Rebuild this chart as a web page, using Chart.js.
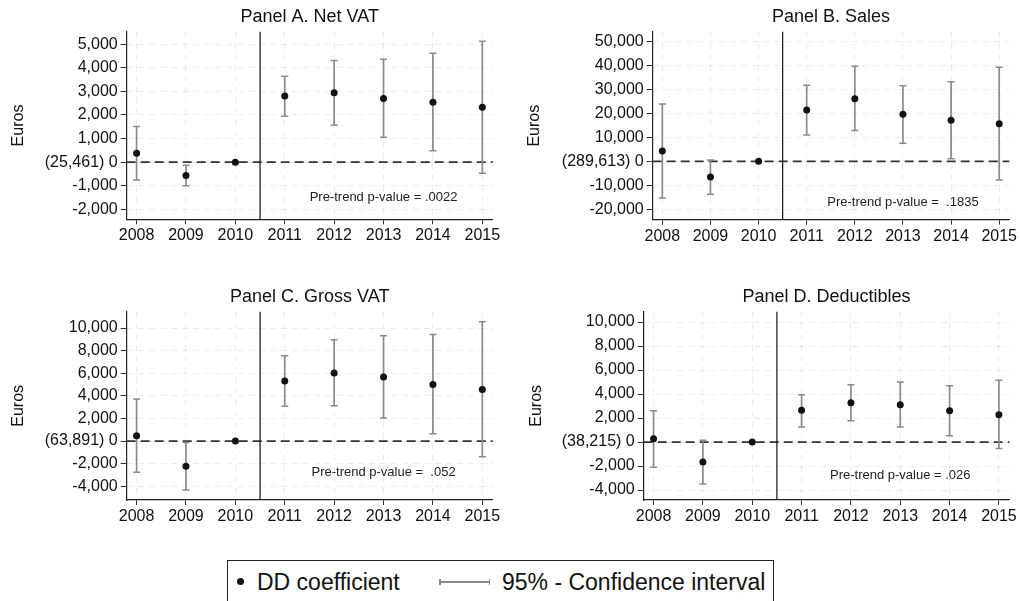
<!DOCTYPE html>
<html>
<head>
<meta charset="utf-8">
<script src="https://cdn.jsdelivr.net/npm/chart.js@4.4.1/dist/chart.umd.min.js"></script>
<style>
  body { margin: 0; background: #fff; }
  #wrap { position: relative; width: 1020px; height: 601px; overflow: hidden; font-family: 'Liberation Sans', Arial, sans-serif; }
  canvas { position: absolute; }
  #legend { position: absolute; left: 227px; top: 560px; width: 547px; height: 60px; border: 1.3px solid #222; box-sizing: border-box; color: #111; font-size: 23px; }
  #legend span { position: absolute; top: 0; line-height: 42px; white-space: pre; }
  .dot { position: absolute; left: 9px; top: 17px; width: 7px; height: 7px; border-radius: 50%; background: #111; }
  .bar { position: absolute; left: 211px; top: 20px; width: 51px; height: 1.5px; background: #8a8a8a; }
  .cap { position: absolute; top: 17.5px; width: 1.5px; height: 6px; background: #8a8a8a; }
</style>
</head>
<body>
<div id="wrap">
  <canvas id="panelA" width="510" height="280" style="left:0;top:0"></canvas>
  <canvas id="panelB" width="510" height="280" style="left:510px;top:0"></canvas>
  <canvas id="panelC" width="510" height="280" style="left:0;top:280px"></canvas>
  <canvas id="panelD" width="510" height="280" style="left:510px;top:280px"></canvas>
  <div id="legend">
    <div class="dot"></div>
    <span style="left:29px">DD coefficient</span>
    <div class="bar"></div>
    <div class="cap" style="left:211px"></div>
    <div class="cap" style="left:260.5px"></div>
    <span style="left:274px">95% - Confidence interval</span>
  </div>
</div>
<script>
// --- data ---
const years = [2008, 2009, 2010, 2011, 2012, 2013, 2014, 2015];

const netVatCoef = [380, -565, 0, 2800, 2940, 2700, 2540, 2330];
const netVatLo   = [-750, -1000, null, 1950, 1570, 1060, 480, -470];
const netVatHi   = [1510, -130, null, 3640, 4310, 4360, 4620, 5130];
const netVatTicks  = [-2000, -1000, 0, 1000, 2000, 3000, 4000, 5000];
const netVatLabels = ['-2,000', '-1,000', '(25,461) 0', '1,000', '2,000', '3,000', '4,000', '5,000'];

const salesCoef = [4300, -6500, 0, 21400, 26100, 19600, 17100, 15700];
const salesLo   = [-15300, -13700, null, 11000, 12800, 7500, 1100, -7800];
const salesHi   = [23900, 600, null, 31700, 39600, 31500, 33200, 39200];
const salesTicks  = [-20000, -10000, 0, 10000, 20000, 30000, 40000, 50000];
const salesLabels = ['-20,000', '-10,000', '(289,613) 0', '10,000', '20,000', '30,000', '40,000', '50,000'];

const grossVatCoef = [470, -2240, 0, 5310, 6020, 5660, 5010, 4570];
const grossVatLo   = [-2770, -4340, null, 3070, 3130, 2030, 650, -1390];
const grossVatHi   = [3720, -120, null, 7550, 8970, 9320, 9440, 10560];
const grossVatTicks  = [-4000, -2000, 0, 2000, 4000, 6000, 8000, 10000];
const grossVatLabels = ['-4,000', '-2,000', '(63,891) 0', '2,000', '4,000', '6,000', '8,000', '10,000'];

const deductCoef = [280, -1670, 0, 2640, 3280, 3110, 2610, 2280];
const deductLo   = [-2110, -3500, null, 1250, 1780, 1250, 530, -530];
const deductHi   = [2610, 140, null, 3940, 4780, 5000, 4690, 5140];
const deductTicks  = [-4000, -2000, 0, 2000, 4000, 6000, 8000, 10000];
const deductLabels = ['-4,000', '-2,000', '(38,215) 0', '2,000', '4,000', '6,000', '8,000', '10,000'];

const treatmentLine = 2010.5;

const FONT = "'Liberation Sans', Arial, sans-serif";
const INK = '#111';

// reference lines + pre-trend note, placed through the scales
const refLines = {
  id: 'refLines',
  beforeDatasetsDraw(chart) {
    const { ctx, chartArea: a, scales: { x, y } } = chart;
    ctx.save();
    ctx.strokeStyle = '#333';
    ctx.lineWidth = 1.7;
    ctx.setLineDash([9, 5]);
    const y0 = y.getPixelForValue(0);
    ctx.beginPath(); ctx.moveTo(a.left, y0); ctx.lineTo(a.right, y0); ctx.stroke();
    ctx.setLineDash([]);
    ctx.strokeStyle = '#111';
    ctx.lineWidth = 1.2;
    const xv = x.getPixelForValue(treatmentLine);
    ctx.beginPath(); ctx.moveTo(xv, a.top); ctx.lineTo(xv, a.bottom); ctx.stroke();
    ctx.restore();
  },
  afterDatasetsDraw(chart, args, opts) {
    const { ctx, scales: { x, y } } = chart;
    ctx.save();
    ctx.font = '13px ' + FONT;
    ctx.fillStyle = '#222';
    ctx.textAlign = 'center';
    ctx.textBaseline = 'middle';
    ctx.fillText(opts.text, x.getPixelForValue(opts.x), y.getPixelForValue(opts.y));
    ctx.restore();
  }
};

function ciPoints(lo, hi) {
  const pts = [];
  years.forEach((yr, i) => {
    if (lo[i] === null) return;
    pts.push({ x: yr, y: lo[i] }, { x: yr, y: hi[i] }, { x: yr, y: null });
  });
  return pts;
}

function makePanel(id, p) {
  new Chart(document.getElementById(id), {
    type: 'scatter',
    data: {
      datasets: [
        {
          data: years.map((yr, i) => ({ x: yr, y: p.coef[i] })),
          pointRadius: 3.5, pointBackgroundColor: INK, pointBorderWidth: 0,
          order: 0
        },
        {
          data: ciPoints(p.lo, p.hi),
          showLine: true, spanGaps: false,
          borderColor: '#8a8a8a', borderWidth: 1.7,
          pointStyle: 'line', pointRadius: 3.5,
          pointBorderColor: '#8a8a8a', pointBorderWidth: 1.5,
          order: 1
        }
      ]
    },
    options: {
      responsive: false,
      animation: false,
      devicePixelRatio: 1,
      layout: { autoPadding: false, padding: { left: 0, right: p.padRight, top: 0, bottom: 0 } },
      plugins: {
        legend: { display: false },
        tooltip: { enabled: false },
        title: {
          display: true, text: p.title, fullSize: false, color: INK,
          font: { family: FONT, size: 18, weight: 'normal' },
          padding: { top: 5.9, bottom: 4.2 }
        },
        refLines: { text: p.note, x: 2013, y: p.noteY }
      },
      scales: {
        x: {
          type: 'linear', min: 2007.8, max: 2015.21,
          afterBuildTicks: s => { s.ticks = years.map(v => ({ value: v })); },
          afterFit: s => { s.height = p.xHeight; s.paddingLeft = 0; s.paddingRight = 0; },
          ticks: { callback: v => String(v), color: INK, font: { family: FONT, size: 16 }, padding: 2, maxRotation: 0 },
          grid: { color: 'rgba(0,0,0,0.075)', tickColor: '#333', tickLength: 5, tickBorderDash: [] },
          border: { display: true, color: '#222', width: 1.2, dash: [6, 5] }
        },
        y: {
          min: p.yMin, max: p.yMax,
          afterBuildTicks: s => { s.ticks = p.ticks.map(v => ({ value: v })); },
          afterFit: s => { s.width = p.axisWidth; s.paddingTop = 0; s.paddingBottom = 0; },
          ticks: { callback: (v, i) => p.labels[i], color: INK, font: { family: FONT, size: 16 }, padding: 3 },
          grid: { color: 'rgba(0,0,0,0.075)', tickColor: '#333', tickLength: 6, tickBorderDash: [] },
          border: { display: true, color: '#222', width: 1.2, dash: [6, 5] },
          title: {
            display: true, text: 'Euros', color: INK,
            font: { family: FONT, size: 16 },
            padding: { top: p.eurosX - 9.6, bottom: 0 }
          }
        }
      }
    },
    plugins: [refLines]
  });
}

makePanel('panelA', {
  title: 'Panel A. Net VAT', coef: netVatCoef, lo: netVatLo, hi: netVatHi,
  ticks: netVatTicks, labels: netVatLabels, yMin: -2420, yMax: 5530,
  note: 'Pre-trend p-value = .0022', noteY: -1500,
  axisWidth: 126.7, padRight: 17.3, xHeight: 60.7, eurosX: 18.3
});
makePanel('panelB', {
  title: 'Panel B. Sales', coef: salesCoef, lo: salesLo, hi: salesHi,
  ticks: salesTicks, labels: salesLabels, yMin: -24300, yMax: 54000,
  note: 'Pre-trend p-value =  .1835', noteY: -17100,
  axisWidth: 142.7, padRight: 10.7, xHeight: 60.3, eurosX: 25
});
makePanel('panelC', {
  title: 'Panel C. Gross VAT', coef: grossVatCoef, lo: grossVatLo, hi: grossVatHi,
  ticks: grossVatTicks, labels: grossVatLabels, yMin: -5220, yMax: 11450,
  note: 'Pre-trend p-value =  .052', noteY: -2800,
  axisWidth: 126.7, padRight: 17.3, xHeight: 60, eurosX: 18.3
});
makePanel('panelD', {
  title: 'Panel D. Deductibles', coef: deductCoef, lo: deductLo, hi: deductHi,
  ticks: deductTicks, labels: deductLabels, yMin: -4830, yMax: 10860,
  note: 'Pre-trend p-value = .026', noteY: -2750,
  axisWidth: 133.7, padRight: 10.7, xHeight: 60, eurosX: 26.7
});
</script>
</body>
</html>
